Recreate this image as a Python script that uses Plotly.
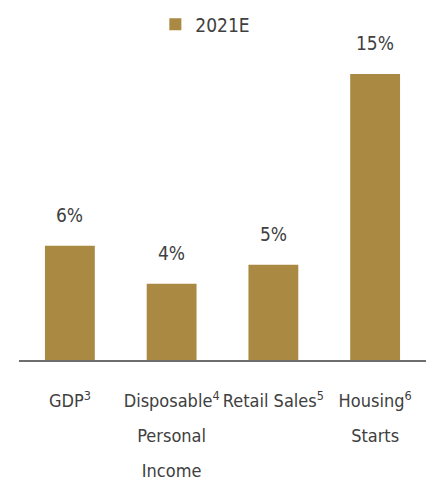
import plotly.graph_objects as go

# Growth forecasts for 2021
categories = ["GDP", "Disposable Personal Income", "Retail Sales", "Housing Starts"]
tick_lines = [["GDP"], ["Disposable", "Personal", "Income"], ["Retail Sales"], ["Housing", "Starts"]]
footnotes = ["3", "4", "5", "6"]
values_2021e = [6, 4, 5, 15]
series_name = "2021E"

BAR_COLOR = "#AA8942"
TEXT_COLOR = "#404040"
FONT = "DejaVu Sans Condensed, Liberation Sans Narrow, Roboto, sans-serif"
LABEL_PX = 18      # glyph size of the category labels
LINE_EM_PX = 27    # em used for the spacing between label lines


def tick_label(lines, note):
    parts = []
    for i, line in enumerate(lines):
        txt = line + (f"<sup>{note}</sup>" if i == 0 else "")
        parts.append(f'<span style="font-size:{LABEL_PX}px">{txt}</span>')
    return "<br>".join(parts)


ticktext = [tick_label(l, n) for l, n in zip(tick_lines, footnotes)]

fig = go.Figure()
fig.add_trace(go.Bar(
    x=categories,
    y=values_2021e,
    name=series_name,
    marker=dict(color=BAR_COLOR, line=dict(width=0)),
    showlegend=True,
))

# value labels above each bar
for cat, val in zip(categories, values_2021e):
    fig.add_annotation(
        x=cat, y=val, text=f"{val}%",
        showarrow=False, yanchor="bottom", yshift=18,
        font=dict(family=FONT, size=19, color=TEXT_COLOR),
    )

fig.update_layout(
    width=428, height=485,
    margin=dict(l=19, r=2, t=55, b=125),
    paper_bgcolor="white", plot_bgcolor="white",
    bargap=0.51,
    font=dict(family=FONT, color=TEXT_COLOR),
    legend=dict(
        orientation="h", x=0.335, xanchor="left", y=1.10, yanchor="middle",
        font=dict(family=FONT, size=19, color=TEXT_COLOR),
        bgcolor="rgba(0,0,0,0)",
    ),
    xaxis=dict(
        showline=True, linecolor="#6e6e6e", linewidth=1.5,
        ticks="", showgrid=False, zeroline=False,
        tickangle=0, automargin=False,
        tickmode="array", tickvals=categories, ticktext=ticktext,
        tickfont=dict(family=FONT, size=LINE_EM_PX, color=TEXT_COLOR),
        ticklabelstandoff=13,
    ),
    yaxis=dict(
        range=[0, 16], visible=False, showgrid=False, zeroline=False,
    ),
)

fig.write_html("out.html")
